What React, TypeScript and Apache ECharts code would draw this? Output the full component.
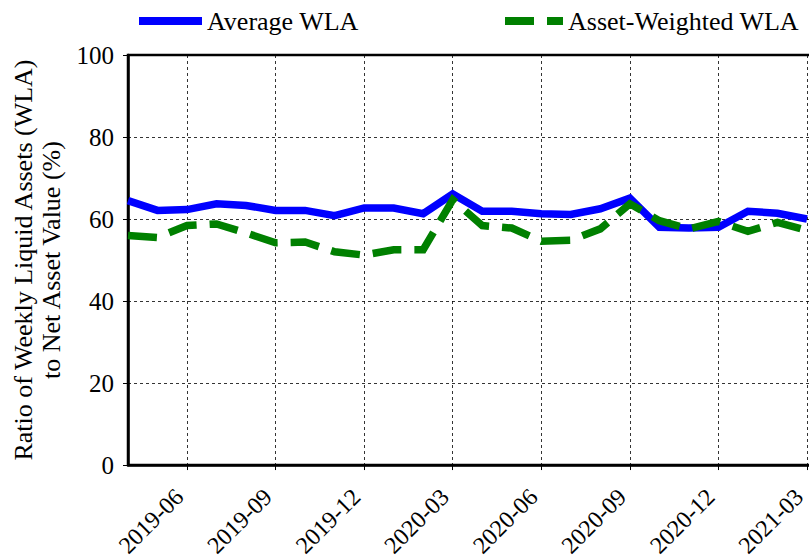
import React, { useEffect, useRef } from "react";
import * as echarts from "echarts";

const months = [
  "2019-04", "2019-05", "2019-06", "2019-07", "2019-08", "2019-09", "2019-10", "2019-11", "2019-12",
  "2020-01", "2020-02", "2020-03", "2020-04", "2020-05", "2020-06", "2020-07", "2020-08", "2020-09",
  "2020-10", "2020-11", "2020-12", "2021-01", "2021-02", "2021-03", "2021-04", "2021-05",
];
const averageWLA = [
  64.5, 62.1, 62.3, 63.7, 63.3, 62.1, 62.1, 60.8, 62.7, 62.7, 61.3, 66.1,
  61.9, 61.9, 61.3, 61.1, 62.5, 65.1, 58.0, 57.8, 58.0, 61.9, 61.4, 60.0,
];
const assetWeightedWLA = [
  56.0, 55.5, 58.4, 58.8, 56.6, 54.2, 54.4, 52.0, 51.2, 52.5, 52.5, 64.7,
  58.4, 57.8, 54.6, 54.8, 57.6, 63.7, 59.6, 57.6, 59.4, 57.0, 59.2, 57.2,
];
const yTicks = [0, 20, 40, 60, 80, 100];

const FONT = "Liberation Serif";

export default function App() {
  const ref = useRef<HTMLDivElement>(null);
  useEffect(() => {
    if (!ref.current) return;
    const chart = echarts.init(ref.current, null, { renderer: "svg" });
    const showIdx = (i: number) => i >= 2 && (i - 2) % 3 === 0;
    const legendCommon = {
      top: 8,
      padding: 0,
      itemHeight: 24,
      itemGap: 0,
      itemStyle: { color: "rgba(0,0,0,0)", borderWidth: 0 },
      lineStyle: { width: 8 },
      textStyle: { fontFamily: FONT, fontSize: 26, color: "#000" },
    };
    chart.setOption({
      animation: false,
      backgroundColor: "#ffffff",
      textStyle: { fontFamily: FONT },
      legend: [
        { ...legendCommon, data: ["Average WLA"], left: 135, itemWidth: 63 },
        { ...legendCommon, data: ["Asset-Weighted WLA"], left: 501, itemWidth: 58 },
      ],
      grid: {
        left: 128,
        right: 880 - 866,
        top: 55,
        bottom: 92,
        show: true,
        borderColor: "#000",
        borderWidth: 2.5,
        backgroundColor: "transparent",
      },
      xAxis: {
        type: "category",
        data: months,
        boundaryGap: false,
        axisLine: { lineStyle: { color: "#000", width: 2.5 } },
        axisTick: { show: true, interval: (i: number) => showIdx(i), length: 5, lineStyle: { color: "#000", width: 1 } },
        axisLabel: {
          interval: (i: number) => showIdx(i),
          rotate: 45,
          fontFamily: FONT,
          fontSize: 24,
          color: "#000",
          margin: 20,
          padding: [0, 11, 0, 0],
        },
        splitLine: {
          show: true,
          interval: (i: number) => showIdx(i),
          lineStyle: { color: "#000", width: 0.8, type: [3, 3] },
        },
      },
      yAxis: {
        type: "value",
        min: yTicks[0],
        max: yTicks[yTicks.length - 1],
        interval: 20,
        name: "Ratio of Weekly Liquid Assets (WLA)\nto Net Asset Value (%)",
        nameLocation: "middle",
        nameRotate: 90,
        nameGap: 60,
        nameTextStyle: { fontFamily: FONT, fontSize: 26, color: "#000", align: "center", lineHeight: 28 },
        axisLine: { show: true, lineStyle: { color: "#000", width: 2.5 } },
        axisTick: { show: true, length: 5, lineStyle: { color: "#000", width: 1 } },
        axisLabel: { fontFamily: FONT, fontSize: 25, color: "#000", margin: 14 },
        splitLine: { show: true, lineStyle: { color: "#000", width: 0.8, type: [3, 3] } },
      },
      series: [
        {
          name: "Average WLA",
          type: "line",
          data: averageWLA,
          symbol: "none",
          lineStyle: { color: "#0000ff", width: 7.5, cap: "butt", join: "miter" },
          itemStyle: { color: "#0000ff" },
          z: 3,
        },
        {
          name: "Asset-Weighted WLA",
          type: "line",
          data: assetWeightedWLA,
          symbol: "none",
          lineStyle: { color: "#008000", width: 7.5, type: [29, 13], cap: "butt", join: "miter" },
          itemStyle: { color: "#008000" },
          z: 4,
        },
      ],
    });
    return () => chart.dispose();
  }, []);
  return (
    <div style={{ position: "fixed", left: 0, top: 0, width: 809, height: 560, overflow: "hidden", background: "#fff" }}>
      <div ref={ref} style={{ width: 880, height: 560 }} />
    </div>
  );
}
